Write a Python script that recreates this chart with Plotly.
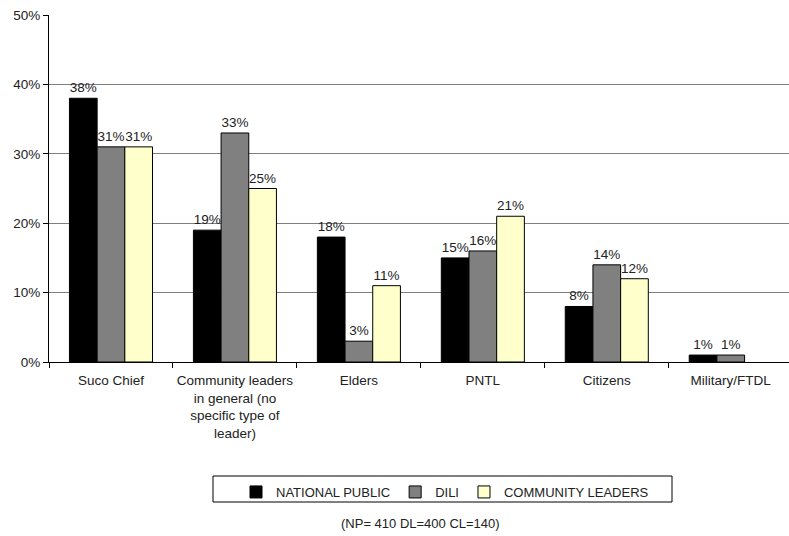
import plotly.graph_objects as go

categories = ["Suco Chief",
              "Community leaders<br>in general (no<br>specific type of<br>leader)",
              "Elders", "PNTL", "Citizens", "Military/FTDL"]
national_public = [38, 19, 18, 15, 8, 1]
dili = [31, 33, 3, 16, 14, 1]
community_leaders = [31, 25, 11, 21, 12, 0]
series_names = ["NATIONAL PUBLIC", "DILI", "COMMUNITY LEADERS"]
series_colors = ["#000000", "#808080", "#FFFFCC"]
y_ticks = [0, 10, 20, 30, 40, 50]
note = "(NP= 410 DL=400 CL=140)"

FONT = "Liberation Sans, Arial, sans-serif"
TXT = "#222222"
fig = go.Figure()
for name, vals, col in zip(series_names, [national_public, dili, community_leaders], series_colors):
    fig.add_trace(go.Bar(
        x=categories, y=vals, name=name,
        marker=dict(color=col, line=dict(color="#000000",
                                         width=[1 if v > 0 else 0 for v in vals])),
        text=[f"{v}%" if v > 0 else "" for v in vals],
        textposition="outside", cliponaxis=False,
        textfont=dict(family=FONT, size=13.5, color=TXT),
    ))

L, R, T, B = 49, 0, 15, 174
W, H = 789, 536
pw = W - L - R
ph = H - T - B

def px(x):
    return (x - L) / pw

def py(y):
    return (T + ph - y) / ph

fig.update_layout(
    width=W, height=H,
    margin=dict(l=L, r=R, t=T, b=B, pad=0, autoexpand=False),
    paper_bgcolor="white", plot_bgcolor="white",
    barmode="group", bargap=0.33, bargroupgap=0,
    font=dict(family=FONT, size=13, color=TXT),
    showlegend=True,
    legend=dict(orientation="h", x=px(236), y=py(477), xanchor="left", yanchor="top",
                bgcolor="rgba(0,0,0,0)", borderwidth=0,
                font=dict(family=FONT, size=13, color=TXT),
                traceorder="normal", itemclick=False),
    shapes=[dict(type="rect", xref="paper", yref="paper",
                 x0=px(213), x1=px(672), y0=py(502), y1=py(476),
                 line=dict(color="#000000", width=1), fillcolor="rgba(0,0,0,0)")],
    annotations=[dict(text=note, xref="paper", yref="paper", x=px(420), y=py(523),
                      showarrow=False, xanchor="center", yanchor="middle",
                      font=dict(family=FONT, size=13, color=TXT))],
)
fig.update_xaxes(
    type="category", range=[-0.5, 5.47], automargin=False, tickangle=0,
    showline=True, linecolor="#000000", linewidth=1,
    ticks="outside", tickson="boundaries", ticklen=5, tickcolor="#000000",
    ticklabelstandoff=6,
    showgrid=False, tickfont=dict(family=FONT, size=13.5, color=TXT),
)
fig.update_yaxes(
    range=[0, 50], tickvals=y_ticks, ticktext=[f"{v}%" for v in y_ticks],
    automargin=False,
    showline=True, linecolor="#000000", linewidth=1,
    ticks="outside", ticklen=5, tickcolor="#000000",
    showgrid=True, gridcolor="#7f7f7f", gridwidth=1, zeroline=False,
    tickfont=dict(family=FONT, size=13.5, color=TXT),
)
fig.write_html("out.html")
